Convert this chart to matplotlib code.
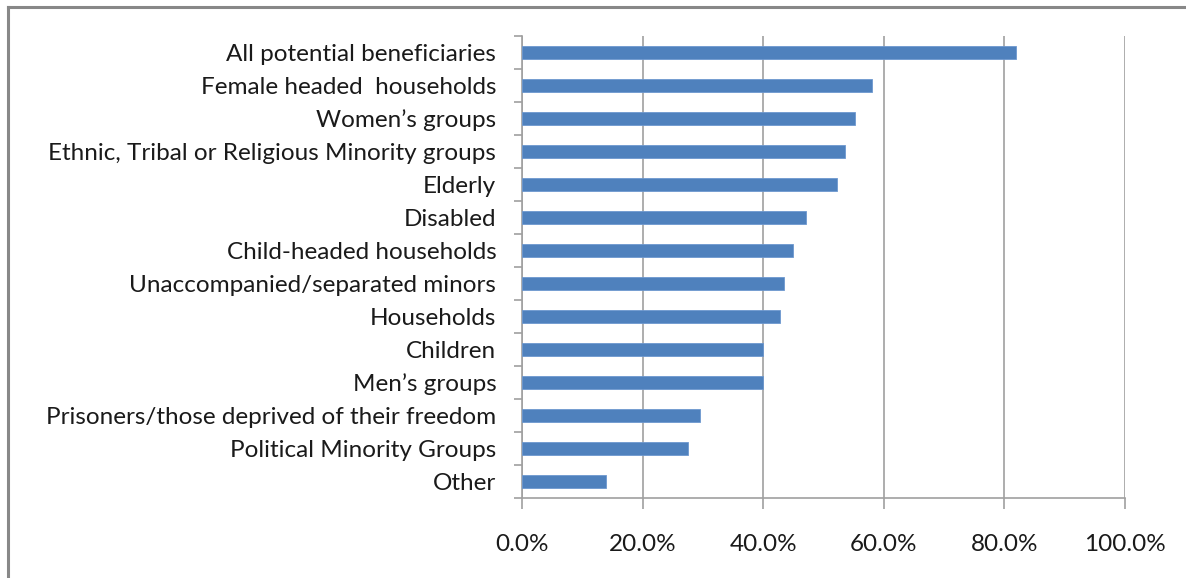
import numpy as np
import matplotlib.pyplot as plt
from matplotlib.ticker import FixedLocator, PercentFormatter
from matplotlib.lines import Line2D

categories = [
    "All potential beneficiaries",
    "Female headed  households",
    "Women\u2019s groups",
    "Ethnic, Tribal or Religious Minority groups",
    "Elderly",
    "Disabled",
    "Child-headed households",
    "Unaccompanied/separated minors",
    "Households",
    "Children",
    "Men\u2019s groups",
    "Prisoners/those deprived of their freedom",
    "Political Minority Groups",
    "Other",
]
values = [82.0, 58.0, 55.2, 53.6, 52.2, 47.1, 44.9, 43.4, 42.8, 40.0, 40.0, 29.5, 27.5, 13.9]

plt.rcParams['font.family'] = ['Lato', 'DejaVu Sans']

fig = plt.figure(figsize=(11.86, 5.78), dpi=100)
ax = fig.add_axes([522 / 1186, 1 - 498 / 578, 603 / 1186, 462 / 578])

y = np.arange(len(categories))
ax.barh(y, values, height=0.4, color='#4f81bd', edgecolor='#6d98cf', linewidth=0.6, zorder=3)

ax.set_xlim(0, 100)
ax.set_ylim(len(categories) - 0.5, -0.5)
ax.set_xticks(np.arange(0, 101, 20))
ax.xaxis.set_major_formatter(PercentFormatter(decimals=1))
ax.set_yticks(y)
ax.set_yticklabels(categories)
ax.yaxis.set_minor_locator(FixedLocator(np.arange(-0.5, len(categories), 1)))

ax.grid(axis='x', color='#a0a0a0', linewidth=1.2, zorder=0)
for s in ['top', 'right']:
    ax.spines[s].set_visible(False)
for s in ['left', 'bottom']:
    ax.spines[s].set_color('#a0a0a0')
    ax.spines[s].set_linewidth(1.2)

ax.tick_params(axis='y', which='major', length=0, pad=18.5, labelsize=17.5, labelcolor='#1a1a1a')
ax.tick_params(axis='y', which='minor', length=6, color='#a0a0a0', width=1.2)
ax.tick_params(axis='x', length=8, color='#a0a0a0', width=1.2, pad=18, labelsize=17.5, labelcolor='#1a1a1a')

# outer chart border (top and left visible)
fig.add_artist(Line2D([8 / 1186, 8 / 1186], [0, 1 - 7 / 578], transform=fig.transFigure, color='#888888', lw=2.2))
fig.add_artist(Line2D([8 / 1186, 1], [1 - 7 / 578, 1 - 7 / 578], transform=fig.transFigure, color='#888888', lw=2.2))

fig.savefig("out.png", dpi=100)
